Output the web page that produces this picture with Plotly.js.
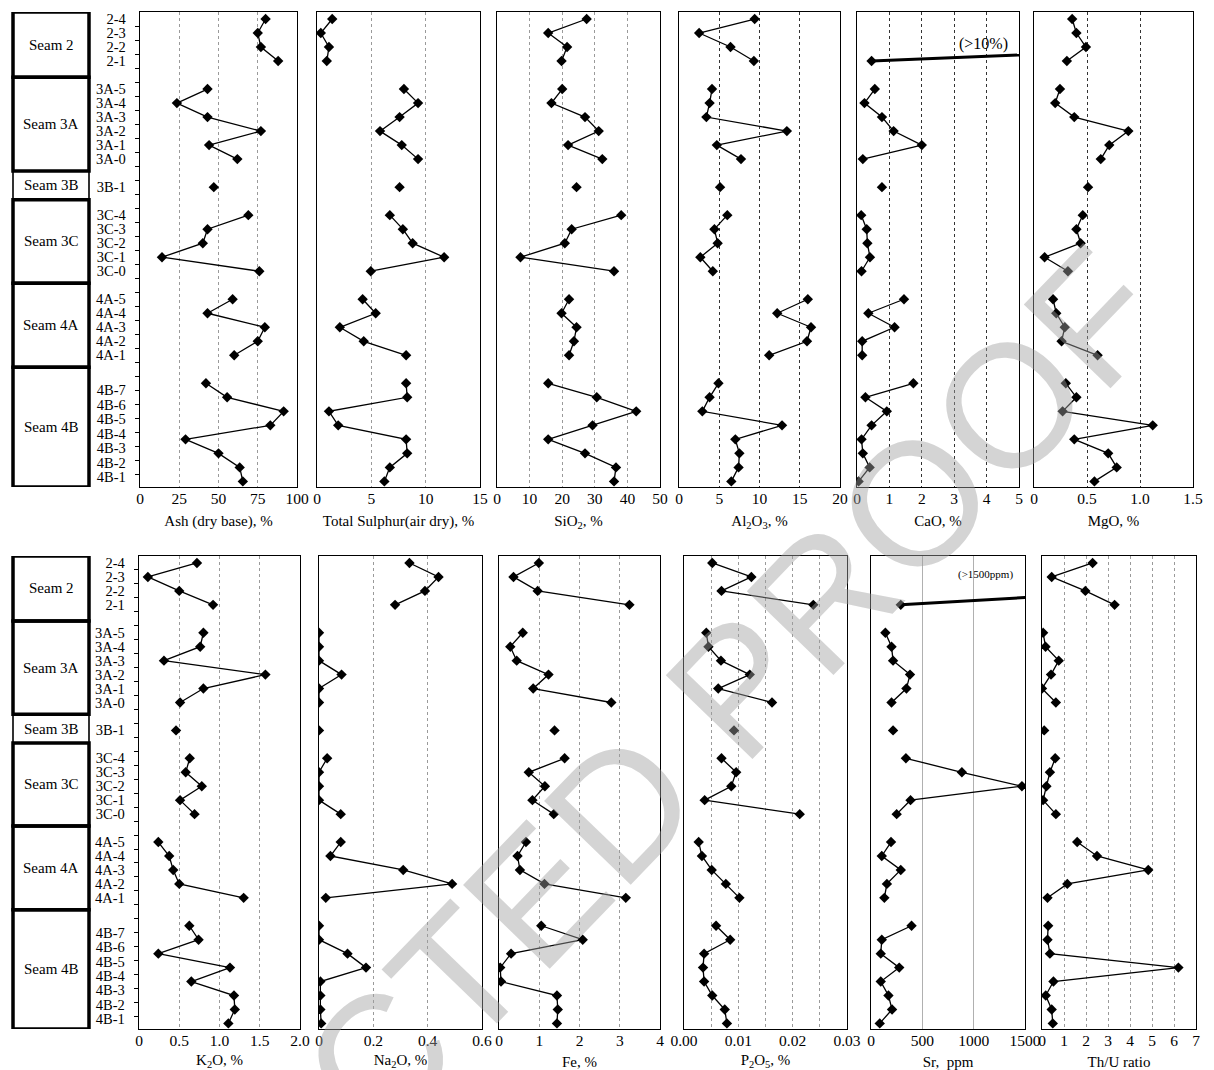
<!DOCTYPE html>
<html><head><meta charset="utf-8">
<script src="https://cdn.plot.ly/plotly-3.0.1.min.js"></script>
<style>html,body{margin:0;padding:0;background:#fff}</style>
</head><body><div id="chart" style="width:1214px;height:1070px"></div>
<script>
// ---------------- DATA ----------------
const seamNames = ['Seam 2','Seam 3A','Seam 3B','Seam 3C','Seam 4A','Seam 4B'];
const seamSampleLabels = [
  ['2-4','2-3','2-2','2-1'],
  ['3A-5','3A-4','3A-3','3A-2','3A-1','3A-0'],
  ['3B-1'],
  ['3C-4','3C-3','3C-2','3C-1','3C-0'],
  ['4A-5','4A-4','4A-3','4A-2','4A-1'],
  ['4B-7','4B-6','4B-5','4B-4','4B-3','4B-2','4B-1']
];
// number of measured points plotted in each seam (top to bottom)
const seamPointCounts = [4,6,1,5,5,8];

// values, top to bottom (Seam 2 | 3A | 3B | 3C | 4A | 4B)
const ash     = [80,75,77,88, 43,23.5,43,77,44,62, 47, 69,43,40,14,76, 59,43,79.5,75,60, 42,55.5,91.5,83,29,50,63.5,65.5];
const sulphur = [1.4,0.35,1.1,0.9, 8.0,9.3,7.6,5.8,7.8,9.3, 7.6, 6.7,7.9,8.8,11.7,4.95, 4.2,5.4,2.1,4.3,8.2, 8.2,8.3,1.1,1.95,8.2,8.3,6.7,6.2];
const sio2    = [27.5,15.7,21.5,19.8, 20,16.7,27,31.2,21.8,32.3, 24.4, 38.1,22.9,20.8,7.2,35.9, 22.1,19.8,24.4,23.6,22.1, 15.7,30.6,42.7,29.3,15.7,27,36.5,35.9];
const al2o3   = [9.4,2.5,6.4,9.3, 4.1,3.8,3.4,13.4,4.7,7.7, 5.1, 6.0,4.4,4.8,2.65,4.2, 16.0,12.2,16.4,15.9,11.2, 4.9,3.8,2.9,12.8,7.0,7.5,7.4,6.5];
const cao     = [null,null,11,0.45, 0.55,0.23,0.77,1.13,2.0,0.18, 0.77, 0.13,0.3,0.32,0.4,0.14, 1.45,0.35,1.16,0.16,0.16, 1.74,0.26,0.92,0.45,0.14,0.18,0.39,0.05];
const mgo     = [0.36,0.40,0.49,0.31, 0.245,0.20,0.38,0.89,0.71,0.63, 0.51, 0.46,0.40,0.44,0.10,0.32, 0.18,0.21,0.29,0.26,0.60, 0.30,0.40,0.27,1.12,0.38,0.70,0.78,0.57];
const k2o     = [0.72,0.11,0.5,0.92, 0.80,0.76,0.31,1.57,0.80,0.51, 0.46, 0.63,0.58,0.78,0.51,0.69, 0.24,0.375,0.425,0.5,1.30, 0.625,0.74,0.24,1.13,0.65,1.18,1.19,1.11];
const na2o    = [0.333,0.44,0.39,0.28, 0,0,0,0.083,0,0, 0, 0.03,0,0,0,0.08, 0.08,0.042,0.31,0.49,0.025, 0,0,0.105,0.173,0.005,0.005,0.005,0.008];
const fe      = [0.99,0.36,0.96,3.24, 0.59,0.28,0.44,1.23,0.85,2.79, 1.38, 1.63,0.74,1.14,0.83,1.36, 0.67,0.46,0.52,1.13,3.15, 1.05,2.08,0.30,0.03,0.05,1.44,1.46,1.44];
const p2o5    = [0.0052,0.0124,0.0069,0.0238, 0.0041,0.0045,0.0068,0.0121,0.0063,0.0162, 0.0092, 0.0069,0.0096,0.0087,0.0038,0.0213, 0.0027,0.0033,0.0051,0.0077,0.0102, 0.0059,0.0085,0.0037,0.0035,0.0037,0.0052,0.0075,0.0079];
const sr      = [null,null,2600,290, 140,200,215,380,345,200, 215, 340,885,1470,385,250, 195,105,290,155,130, 395,105,95,275,95,170,205,85];
const thu     = [2.3,0.44,1.97,3.3, 0.05,0.16,0.76,0.41,0,0.63, 0.1, 0.6,0.36,0.2,0.05,0.63, 1.6,2.5,4.83,1.15,0.25, 0.28,0.25,0.36,6.2,0.52,0.17,0.44,0.49];

// tick labels
const ashTicks = ['0','25','50','75','100'];
const sulphurTicks = ['0','5','10','15'];
const sio2Ticks = ['0','10','20','30','40','50'];
const al2o3Ticks = ['0','5','10','15','20'];
const caoTicks = ['0','1','2','3','4','5'];
const mgoTicks = ['0','0.5','1.0','1.5'];
const k2oTicks = ['0','0.5','1.0','1.5','2.0'];
const na2oTicks = ['0','0.2','0.4','0.6'];
const feTicks = ['0','1','2','3','4'];
const p2o5Ticks = ['0.00','0.01','0.02','0.03'];
const srTicks = ['0','500','1000','1500'];
const thuTicks = ['0','1','2','3','4','5','6','7'];

const titles = ['Ash (dry base), %','Total Sulphur(air dry), %','SiO<sub>2</sub>, %','Al<sub>2</sub>O<sub>3</sub>, %','CaO, %','MgO, %',
  'K<sub>2</sub>O, %','Na<sub>2</sub>O, %','Fe, %','P<sub>2</sub>O<sub>5</sub>, %','Sr,  ppm','Th/U ratio'];

// ---------------- LAYOUT HELPERS ----------------
const W = 1214, H = 1070;
const FONT = 'Liberation Serif, "Times New Roman", serif';

// row positions
const rows = []; const labelPos = []; const labelText = []; const seamSpan = [];
let r = 0;
seamPointCounts.forEach((n, i) => {
  if (i > 0) r++;            // blank row between seams
  const start = r;
  for (let k = 0; k < n; k++) { rows.push(r); r++; }
  const labs = seamSampleLabels[i], m = labs.length;
  labs.forEach((t, j) => {
    labelPos.push(m === n ? start + j : start + (j + 0.5) * (n - 1) / m + 0.03 * j);
    labelText.push(t);
  });
  seamSpan.push([start, start + n - 1]);
});
const nRows = r;
const yRange = [nRows - 0.6, -0.5];
const halfRows = []; for (let k = 0; k < nRows - 1; k++) halfRows.push(k + 0.5);

function fullX(vals) {
  const out = new Array(nRows).fill(null);
  vals.forEach((v, i) => { out[rows[i]] = v; });
  return out;
}
const allRows = Array.from({length: nRows}, (_, i) => i);

const panels = [
  {v: ash, range:[0,100], tv:[0,25,50,75,100], tt: ashTicks, grid:[25,50,75], gc:'#9a9a9a', px:[140,297]},
  {v: sulphur, range:[0,15], tv:[0,5,10,15], tt: sulphurTicks, grid:[5,10], gc:'#9a9a9a', px:[317,480]},
  {v: sio2, range:[0,50], tv:[0,10,20,30,40,50], tt: sio2Ticks, grid:[10,20,30,40], gc:'#9a9a9a', px:[497,660]},
  {v: al2o3, range:[0,20], tv:[0,5,10,15,20], tt: al2o3Ticks, grid:[5,10,15], gc:'#333', px:[679,840]},
  {v: cao, range:[0,5], tv:[0,1,2,3,4,5], tt: caoTicks, grid:[1,2,3,4], gc:'#333', px:[857,1019]},
  {v: mgo, range:[0,1.5], tv:[0,0.5,1,1.5], tt: mgoTicks, grid:[0.5,1.0], gc:'#333', px:[1034,1193]},
  {v: k2o, range:[0,2], tv:[0,0.5,1,1.5,2], tt: k2oTicks, grid:[0.5,1,1.5], gc:'#9a9a9a', px:[139,300]},
  {v: na2o, range:[0,0.6], tv:[0,0.2,0.4,0.6], tt: na2oTicks, grid:[0.2,0.4], gc:'#9a9a9a', px:[319,482]},
  {v: fe, range:[0,4], tv:[0,1,2,3,4], tt: feTicks, grid:[1,2,3], gc:'#9a9a9a', px:[499,660]},
  {v: p2o5, range:[0,0.03], tv:[0,0.01,0.02,0.03], tt: p2o5Ticks, grid:[0.005,0.01,0.015,0.02,0.025], gc:'#9a9a9a', px:[684,847]},
  {v: sr, range:[0,1500], tv:[0,500,1000,1500], tt: srTicks, grid:[500,1000], gc:'#b0b0b0', dash:'solid', px:[871,1025]},
  {v: thu, range:[0,7], tv:[0,1,2,3,4,5,6,7], tt: thuTicks, grid:[1,2,3,4,5,6], gc:'#9a9a9a', px:[1042,1196]}
];
const rowDom = [[1-487/H, 1-12/H], [1-1029/H, 1-556/H]];

const traces = [];
const layout = {
  width: W, height: H, autosize: false, showlegend: false,
  margin: {l:0, r:0, t:0, b:0}, paper_bgcolor:'#fff', plot_bgcolor:'#fff',
  font: {family: FONT, color:'#000'},
  shapes: [], annotations: []
};

panels.forEach((p, i) => {
  const id = i + 1, sx = id === 1 ? '' : id;
  const rowIdx = i < 6 ? 0 : 1;
  const first = (i === 0 || i === 6);
  traces.push({
    type:'scatter', mode:'lines+markers', x: fullX(p.v), y: allRows,
    xaxis:'x'+sx, yaxis:'y'+sx, connectgaps:false, hoverinfo:'skip',
    line:{color:'#000', width:1.3},
    marker:{symbol:'diamond', size:8, color:'#000'}
  });
  // off-scale segments drawn heavier
  p.v.forEach((val, k) => {
    if (val !== null && val > p.range[1]) {
      [k-1, k+1].forEach(n => {
        if (n >= 0 && n < p.v.length && p.v[n] !== null && Math.abs(rows[n]-rows[k]) === 1) {
          traces.push({type:'scatter', mode:'lines', x:[p.v[k], p.v[n]], y:[rows[k], rows[n]],
            xaxis:'x'+sx, yaxis:'y'+sx, hoverinfo:'skip', line:{color:'#000', width:3}});
        }
      });
    }
  });
  layout['xaxis'+sx] = {
    domain:[p.px[0]/W, p.px[1]/W], anchor:'y'+sx, range:p.range,
    tickmode:'array', tickvals:p.tv, ticktext:p.tt, ticks:'', showgrid:false, zeroline:false,
    showline:true, mirror:true, linecolor:'#000', linewidth:1.3,
    tickfont:{family:FONT, size:15.5, color:'#000'}, ticklabelstandoff:-3,
    minor:{tickmode:'array', tickvals:p.grid, showgrid:true, gridcolor:p.gc, griddash:p.dash||'dot', gridwidth:1, ticks:''},
    title:{text:titles[i], font:{family:FONT, size:15, color:'#000'}, standoff:9},
    fixedrange:true, automargin:false
  };
  const ya = {
    domain: rowDom[rowIdx], anchor:'x'+sx, range:yRange,
    tickmode:'array', tickvals:labelPos, ticktext:labelText, showticklabels:first, ticks:'',
    showgrid:false, zeroline:false, showline:true, mirror:true, linecolor:'#000', linewidth:1.3,
    tickfont:{family:FONT, size:14.5, color:'#000'}, ticklabelstandoff:10,
    fixedrange:true, automargin:false
  };
  if (first) ya.minor = {tickmode:'array', tickvals:halfRows, ticks:'outside', ticklen:4, tickcolor:'#000', showgrid:false};
  layout['yaxis'+sx] = ya;
});

// seam boxes on the left of both rows
const bounds = [-0.5];
seamSpan.forEach((s, i) => { if (i > 0) bounds.push((seamSpan[i-1][1] + s[0]) / 2 + (i === 3 ? -0.1 : (i === 1 ? 0.15 : -0.15))); });
bounds.push(yRange[0]);
['y','y7'].forEach(yr => {
  seamNames.forEach((nm, i) => {
    layout.shapes.push({type:'rect', xref:'paper', yref:yr, x0:13/W, x1:89/W, y0:bounds[i], y1:bounds[i+1],
      line:{color:'#000', width: nm === 'Seam 3B' ? 1.6 : 3.5}, fillcolor:'rgba(0,0,0,0)'});
    layout.annotations.push({xref:'paper', yref:yr, x:51/W, y:(bounds[i]+bounds[i+1])/2, text:nm,
      showarrow:false, font:{family:FONT, size:15, color:'#000'}, xanchor:'center', yanchor:'middle'});
  });
});

// off-scale notes
layout.annotations.push({xref:'x5', yref:'y5', x:3.9, y:1.75, text:'(>10%)', showarrow:false,
  font:{family:FONT, size:16, color:'#000'}, xanchor:'center', yanchor:'middle'});
layout.annotations.push({xref:'x11', yref:'y11', x:1120, y:0.8, text:'(>1500ppm)', showarrow:false,
  font:{family:FONT, size:11, color:'#000'}, xanchor:'center', yanchor:'middle'});

// watermark
layout.annotations.push({xref:'paper', yref:'paper', x:425/W, y:1-1010/H, text:'UNCORRECTED PROOF',
  textangle:-46, showarrow:false, xanchor:'center', yanchor:'middle',
  font:{family:'Liberation Sans, Arial, sans-serif', size:175, color:'rgba(160,160,160,0.45)'}});

Plotly.newPlot('chart', traces, layout, {displayModeBar:false, staticPlot:true});
</script></body></html>
